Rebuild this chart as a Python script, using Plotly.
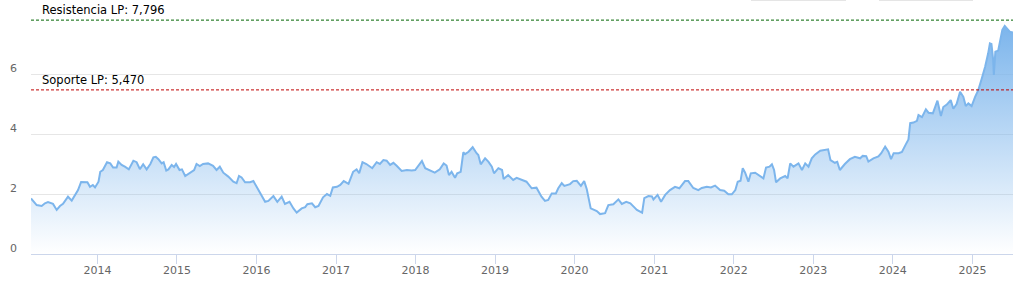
import plotly.graph_objects as go

dates = [
    "2013-03-02", "2013-03-28", "2013-04-20", "2013-05-05", "2013-05-19", "2013-06-11", "2013-06-28",
    "2013-07-13", "2013-07-27", "2013-08-19", "2013-09-05", "2013-09-20", "2013-10-04", "2013-10-18",
    "2013-11-06", "2013-11-16", "2013-11-28", "2013-12-11", "2013-12-21", "2014-01-06", "2014-01-14",
    "2014-01-26", "2014-02-14", "2014-03-01", "2014-03-14", "2014-03-30", "2014-04-07", "2014-04-22",
    "2014-05-07", "2014-05-25", "2014-06-15", "2014-06-30", "2014-07-15", "2014-07-30", "2014-08-15",
    "2014-09-01", "2014-09-15", "2014-09-26", "2014-10-08", "2014-10-23", "2014-11-01", "2014-11-13",
    "2014-11-23", "2014-12-08", "2014-12-19", "2014-12-28", "2015-01-13", "2015-01-24", "2015-02-08",
    "2015-03-01", "2015-03-21", "2015-04-01", "2015-04-16", "2015-05-01", "2015-05-24", "2015-06-16",
    "2015-07-02", "2015-07-17", "2015-08-02", "2015-08-25", "2015-09-17", "2015-10-02", "2015-10-13",
    "2015-10-25", "2015-11-10", "2015-12-03", "2015-12-18", "2015-12-31", "2016-01-18", "2016-02-10",
    "2016-02-25", "2016-03-19", "2016-04-06", "2016-04-26", "2016-05-11", "2016-06-01", "2016-06-19",
    "2016-07-04", "2016-07-27", "2016-08-12", "2016-08-22", "2016-09-12", "2016-09-27", "2016-10-12",
    "2016-11-02", "2016-11-20", "2016-12-05", "2016-12-17", "2017-01-05", "2017-01-20", "2017-02-05",
    "2017-02-27", "2017-03-20", "2017-04-05", "2017-04-17", "2017-05-02", "2017-05-20", "2017-06-16",
    "2017-07-06", "2017-07-21", "2017-08-06", "2017-08-21", "2017-09-06", "2017-09-21", "2017-10-06",
    "2017-10-29", "2017-11-22", "2017-12-14", "2017-12-30", "2018-01-10", "2018-01-30", "2018-02-14",
    "2018-03-07", "2018-03-30", "2018-04-22", "2018-05-10", "2018-05-23", "2018-06-03", "2018-06-15",
    "2018-07-01", "2018-07-11", "2018-07-27", "2018-08-08", "2018-08-16", "2018-09-01", "2018-09-20",
    "2018-10-08", "2018-10-16", "2018-10-27", "2018-11-16", "2018-12-01", "2018-12-17", "2018-12-27",
    "2019-01-16", "2019-02-02", "2019-02-09", "2019-03-02", "2019-03-25", "2019-04-10", "2019-05-02",
    "2019-05-25", "2019-06-18", "2019-07-10", "2019-08-02", "2019-08-18", "2019-09-02", "2019-09-18",
    "2019-10-07", "2019-10-18", "2019-11-03", "2019-11-15", "2019-12-11", "2019-12-26", "2020-01-11",
    "2020-01-30", "2020-02-14", "2020-02-26", "2020-03-15", "2020-03-27", "2020-04-12", "2020-04-27",
    "2020-05-20", "2020-06-04", "2020-06-27", "2020-07-20", "2020-08-05", "2020-08-25", "2020-09-13",
    "2020-09-28", "2020-10-13", "2020-11-06", "2020-11-16", "2020-12-05", "2020-12-21", "2020-12-28",
    "2021-01-16", "2021-02-01", "2021-02-20", "2021-03-14", "2021-04-06", "2021-04-26", "2021-05-22",
    "2021-06-06", "2021-06-29", "2021-07-22", "2021-08-07", "2021-08-30", "2021-09-18", "2021-10-07",
    "2021-10-30", "2021-11-18", "2021-12-07", "2021-12-23", "2022-01-08", "2022-01-19", "2022-02-01",
    "2022-02-11", "2022-02-22", "2022-03-09", "2022-03-20", "2022-04-09", "2022-05-02", "2022-05-17",
    "2022-05-29", "2022-06-14", "2022-06-25", "2022-07-05", "2022-07-14", "2022-08-02", "2022-08-25",
    "2022-09-05", "2022-09-17", "2022-10-02", "2022-10-25", "2022-11-10", "2022-11-25", "2022-12-10",
    "2022-12-25", "2023-01-10", "2023-02-02", "2023-02-25", "2023-03-10", "2023-03-21", "2023-04-10",
    "2023-04-21", "2023-05-03", "2023-05-26", "2023-06-18", "2023-07-11", "2023-08-04", "2023-08-16",
    "2023-09-01", "2023-09-11", "2023-10-04", "2023-10-27", "2023-11-09", "2023-11-27", "2023-12-12",
    "2023-12-24", "2024-01-05", "2024-01-28", "2024-02-12", "2024-02-28", "2024-03-13", "2024-03-21",
    "2024-04-05", "2024-04-21", "2024-04-28", "2024-05-14", "2024-06-01", "2024-06-13", "2024-07-03",
    "2024-07-24", "2024-08-09", "2024-08-20", "2024-09-05", "2024-09-23", "2024-10-05", "2024-10-20",
    "2024-11-05", "2024-11-20", "2024-12-01", "2024-12-13", "2024-12-28", "2025-01-13", "2025-01-28",
    "2025-02-13", "2025-02-28", "2025-03-14", "2025-03-22", "2025-03-29", "2025-04-06", "2025-04-09",
    "2025-04-16", "2025-04-29", "2025-05-06", "2025-05-18", "2025-05-29", "2025-06-09", "2025-06-21",
    "2025-07-06",
]

values = [
    1.85, 1.63, 1.60, 1.69, 1.73, 1.67, 1.47, 1.60, 1.67, 1.91, 1.78, 1.97, 2.13, 2.40,
    2.40, 2.39, 2.24, 2.30, 2.22, 2.41, 2.74, 2.80, 3.06, 3.02, 2.88, 2.88, 3.08, 2.97,
    2.91, 2.82, 3.11, 3.06, 2.83, 2.99, 2.82, 3.00, 3.22, 3.24, 3.16, 3.02, 3.06, 2.78,
    2.82, 2.97, 2.90, 3.00, 2.80, 2.82, 2.60, 2.69, 2.80, 3.00, 2.93, 3.00, 3.02, 2.94,
    2.80, 2.91, 2.71, 2.58, 2.41, 2.36, 2.60, 2.55, 2.39, 2.39, 2.43, 2.27, 2.02, 1.74,
    1.77, 1.93, 1.74, 1.91, 1.67, 1.74, 1.52, 1.38, 1.52, 1.56, 1.66, 1.69, 1.56, 1.60,
    1.89, 2.00, 1.94, 2.22, 2.24, 2.30, 2.43, 2.34, 2.74, 2.82, 2.69, 3.06, 3.00, 2.86,
    3.06, 3.00, 3.13, 3.11, 2.97, 3.04, 2.94, 2.77, 2.80, 2.78, 2.80, 2.91, 3.10, 2.86,
    2.78, 2.71, 2.82, 3.02, 2.95, 2.63, 2.74, 2.54, 2.69, 2.74, 3.39, 3.33, 3.41, 3.56,
    3.36, 3.30, 2.99, 3.19, 3.08, 2.91, 2.69, 2.86, 2.80, 2.50, 2.63, 2.47, 2.54, 2.47,
    2.41, 2.19, 2.21, 1.91, 1.77, 1.80, 2.02, 2.02, 2.19, 2.36, 2.27, 2.33, 2.43, 2.44,
    2.27, 2.43, 2.16, 1.52, 1.47, 1.43, 1.33, 1.36, 1.63, 1.66, 1.82, 1.67, 1.74, 1.69,
    1.58, 1.47, 1.38, 1.86, 1.93, 1.92, 1.82, 1.97, 1.74, 1.97, 2.13, 2.24, 2.19, 2.43,
    2.43, 2.20, 2.13, 2.20, 2.24, 2.22, 2.28, 2.13, 2.11, 1.99, 1.99, 2.13, 2.41, 2.44,
    2.86, 2.71, 2.41, 2.69, 2.71, 2.60, 2.52, 2.88, 2.91, 2.99, 2.80, 2.39, 2.52, 2.60,
    2.52, 3.02, 2.91, 3.02, 2.80, 3.02, 2.91, 3.19, 3.32, 3.44, 3.47, 3.49, 3.13, 3.04,
    3.07, 2.80, 3.00, 3.16, 3.24, 3.19, 3.27, 3.26, 3.08, 3.19, 3.25, 3.36, 3.58, 3.41,
    3.16, 3.36, 3.36, 3.40, 3.63, 3.82, 4.36, 4.38, 4.44, 4.63, 4.56, 4.82, 4.71, 4.69,
    5.11, 4.60, 4.90, 4.98, 5.13, 4.84, 5.00, 5.41, 5.24, 4.93, 5.02, 4.93, 5.24, 5.47,
    5.86, 6.24, 6.69, 7.02, 7.00, 6.47, 5.97, 6.74, 6.78, 7.02, 7.47, 7.60, 7.52, 7.41,
    7.38,
]

resistance = 7.796
support = 5.470
level_labels = ["Resistencia LP: 7,796", "Soporte LP: 5,470"]
y_ticks = [0, 2, 4, 6, 8]
y_tick_text = ["0", "2", "4", "6", ""]

fig = go.Figure()
fig.add_trace(go.Scatter(
    x=dates, y=values, mode="lines",
    line=dict(color="#7cb5ec", width=2),
    fill="tozeroy",
    fillgradient=dict(
        type="vertical",
        start=0, stop=max(values),
        colorscale=[[0, "rgba(124,181,236,0.0)"], [1, "rgba(124,181,236,1.0)"]],
    ),
    hoverinfo="skip",
    showlegend=False,
))

for level, color, text in [(resistance, "#006400", level_labels[0]), (support, "#c00000", level_labels[1])]:
    fig.add_shape(type="line", xref="paper", x0=0, x1=1, yref="y", y0=level, y1=level,
                  line=dict(color=color, width=1, dash="3px,2px"), layer="above")
    fig.add_annotation(xref="paper", x=0, xshift=9, yref="y", y=level, yshift=1,
                       xanchor="left", yanchor="bottom", text=text, showarrow=False,
                       font=dict(family="DejaVu Sans", size=11.5, color="#000000"))

# cut-off range buttons at the top edge
for x0, x1 in [(751, 846), (879, 973)]:
    fig.add_shape(type="line", xref="paper", yref="paper",
                  x0=(x0 - 31) / 982, x1=(x1 - 31) / 982,
                  y0=1 + 14.5 / 240, y1=1 + 14.5 / 240,
                  line=dict(color="#cccccc", width=2))

fig.update_layout(
    width=1019, height=290,
    margin=dict(l=31, r=6, t=14, b=36),
    paper_bgcolor="white", plot_bgcolor="white",
    font=dict(family="DejaVu Sans", size=11, color="#666666"),
    xaxis=dict(
        type="date",
        range=[dates[0], dates[-1]],
        tick0="2014-01-01", dtick="M12", tickformat="%Y",
        showgrid=False, zeroline=False,
        showline=True, linecolor="#ccd6eb", linewidth=1,
        ticks="outside", ticklen=9, tickcolor="#ccd6eb", tickwidth=1,
        ticklabelstandoff=-3,
        tickfont=dict(size=11, color="#666666"),
    ),
    yaxis=dict(
        range=[0, 8],
        tickvals=y_ticks, ticktext=y_tick_text,
        showgrid=True, gridcolor="#e6e6e6", gridwidth=1,
        zeroline=False, showline=False,
        ticks="", ticklabelshift=-6, ticklabelstandoff=13,
        tickfont=dict(size=11, color="#666666"),
    ),
)

fig.write_html("out.html")
